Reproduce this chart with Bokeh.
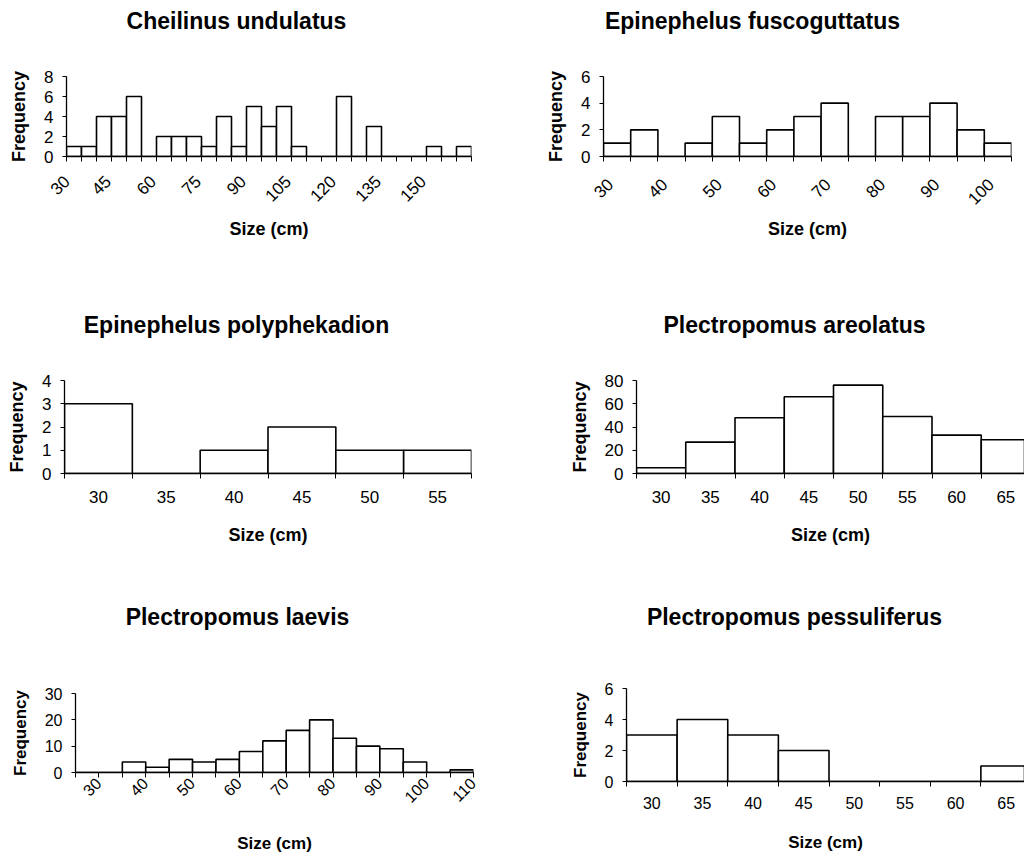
import math
from bokeh.plotting import figure
from bokeh.layouts import row, column
from bokeh.models import Range1d, FixedTicker, LinearAxis
from bokeh.embed import file_html
from bokeh.resources import INLINE

FONT = "Liberation Sans"

# ---------------- data ----------------
cu_title = "Cheilinus undulatus"
cu_bins = [30, 35, 40, 45, 50, 55, 60, 65, 70, 75, 80, 85, 90, 95, 100, 105,
           110, 115, 120, 125, 130, 135, 140, 145, 150, 155, 160]
cu_freq = [1, 1, 4, 4, 6, 0, 2, 2, 2, 1, 4, 1, 5, 3, 5, 1,
           0, 0, 6, 0, 3, 0, 0, 0, 1, 0, 1]
cu_labels = [30, 45, 60, 75, 90, 105, 120, 135, 150]
cu_yticks = [0, 2, 4, 6, 8]

ef_title = "Epinephelus fuscoguttatus"
ef_bins = [30, 35, 40, 45, 50, 55, 60, 65, 70, 75, 80, 85, 90, 95, 100]
ef_freq = [1, 2, 0, 1, 3, 1, 2, 3, 4, 0, 3, 3, 4, 2, 1]
ef_labels = [30, 40, 50, 60, 70, 80, 90, 100]
ef_yticks = [0, 2, 4, 6]

ep_title = "Epinephelus polyphekadion"
ep_bins = [30, 35, 40, 45, 50, 55]
ep_freq = [3, 0, 1, 2, 1, 1]
ep_labels = [30, 35, 40, 45, 50, 55]
ep_yticks = [0, 1, 2, 3, 4]

pa_title = "Plectropomus areolatus"
pa_bins = [30, 35, 40, 45, 50, 55, 60, 65]
pa_freq = [5, 27, 48, 66, 76, 49, 33, 29]
pa_labels = [30, 35, 40, 45, 50, 55, 60, 65]
pa_yticks = [0, 20, 40, 60, 80]

pl_title = "Plectropomus laevis"
pl_bins = [30, 35, 40, 45, 50, 55, 60, 65, 70, 75, 80, 85, 90, 95, 100, 105, 110]
pl_freq = [0, 0, 4, 2, 5, 4, 5, 8, 12, 16, 20, 13, 10, 9, 4, 0, 1]
pl_labels = [30, 40, 50, 60, 70, 80, 90, 100, 110]
pl_yticks = [0, 10, 20, 30]

pp_title = "Plectropomus pessuliferus"
pp_bins = [30, 35, 40, 45, 50, 55, 60, 65]
pp_freq = [3, 4, 3, 2, 0, 0, 0, 1]
pp_labels = [30, 35, 40, 45, 50, 55, 60, 65]
pp_yticks = [0, 2, 4, 6]

BIN = 5


def panel(title, bins, freq, labels, yticks, cell, frame, full_right, title_c,
          rotate=False, lab_shift=0.0, tick_standoff=10, xlab_standoff=14,
          tick_font="17px", lab_font="18px", title_standoff=44):
    cl, cw, ct, ch = cell          # cell (page px): left, width, top, height
    fl, fr, ft, fb = frame         # frame (page px): left, right, top, bottom
    x0 = bins[0] - BIN / 2
    x_full = bins[-1] + BIN / 2
    upx = (x_full - x0) / (full_right - fl)   # data units per pixel
    x1 = x0 + (fr - fl) * upx
    p = figure(width=cw, height=ch, output_backend="svg", toolbar_location=None,
               x_range=Range1d(x0, x1), y_range=Range1d(0, yticks[-1]),
               min_border_left=fl - cl, min_border_right=cl + cw - fr,
               min_border_top=ft - ct, min_border_bottom=ct + ch - fb)
    p.vbar(x=bins, top=freq, width=BIN, bottom=0, fill_color="white",
           line_color="black", line_width=1.6)
    p.grid.visible = False
    p.outline_line_color = None
    p.background_fill_color = "white"
    p.border_fill_color = "white"

    edges = [b - BIN / 2 for b in bins] + [bins[-1] + BIN / 2]
    shift = lab_shift * upx
    pos = [round(max(v + shift, x0 + 0.05), 3) for v in labels]
    xa = p.xaxis[0]
    xa.ticker = FixedTicker(ticks=pos, minor_ticks=edges)
    xa.major_label_overrides = {q: str(v) for q, v in zip(pos, labels)}
    xa.major_tick_line_color = None
    xa.major_tick_out = 5
    xa.major_tick_in = 0
    xa.minor_tick_line_color = "black"
    xa.minor_tick_out = 5
    xa.minor_tick_in = 0
    xa.axis_line_color = "black"
    xa.axis_line_width = 1.3
    xa.major_label_text_font = FONT
    xa.major_label_text_font_size = tick_font
    xa.major_label_text_color = "black"
    xa.major_label_standoff = tick_standoff
    if rotate:
        xa.major_label_orientation = math.pi / 4
    xa.axis_label = "Size (cm)"
    xa.axis_label_text_font = FONT
    xa.axis_label_text_font_style = "bold"
    xa.axis_label_text_font_size = lab_font
    xa.axis_label_text_color = "black"
    xa.axis_label_standoff = xlab_standoff

    ya = p.yaxis[0]
    ya.ticker = FixedTicker(ticks=yticks)
    ya.minor_tick_line_color = None
    ya.major_tick_out = 4
    ya.major_tick_in = 0
    ya.major_tick_line_color = "black"
    ya.axis_line_color = "black"
    ya.axis_line_width = 1.3
    ya.major_label_text_font = FONT
    ya.major_label_text_font_size = tick_font
    ya.major_label_text_color = "black"
    ya.major_label_standoff = 9
    ya.axis_label = "Frequency"
    ya.axis_label_text_font = FONT
    ya.axis_label_text_font_style = "bold"
    ya.axis_label_text_font_size = lab_font
    ya.axis_label_text_color = "black"
    ya.axis_label_standoff = 12

    # chart title, centred at page x title_c above the frame
    tx = round(x0 + (title_c - fl) * upx, 3)
    ta = LinearAxis(ticker=FixedTicker(ticks=[tx], minor_ticks=[]),
                    major_label_overrides={tx: title},
                    axis_line_color=None, major_tick_line_color=None,
                    minor_tick_line_color=None, major_tick_out=0, major_tick_in=0,
                    major_label_standoff=title_standoff,
                    major_label_text_font=FONT, major_label_text_font_style="bold",
                    major_label_text_font_size="23px", major_label_text_color="black")
    p.add_layout(ta, "above")
    return p


LEFT = (0, 520)
RIGHT = (520, 504)
R1, R2, R3 = (0, 300), (300, 292), (592, 265)

p1 = panel(cu_title, cu_bins, cu_freq, cu_labels, cu_yticks,
           LEFT + R1, (66, 471, 76, 156), 471, 236,
           rotate=True, lab_shift=-11, tick_standoff=17, xlab_standoff=9,
           title_standoff=43)
p2 = panel(ef_title, ef_bins, ef_freq, ef_labels, ef_yticks,
           RIGHT + R1, (603, 1011, 76, 156), 1011, 752,
           rotate=True, lab_shift=-7, tick_standoff=20, xlab_standoff=6,
           title_standoff=43)
p3 = panel(ep_title, ep_bins, ep_freq, ep_labels, ep_yticks,
           LEFT + R2, (64, 471, 380, 473), 471, 236,
           tick_standoff=12, xlab_standoff=19, title_standoff=43)
p4 = panel(pa_title, pa_bins, pa_freq, pa_labels, pa_yticks,
           RIGHT + R2, (636, 1024, 380, 473), 1030, 794,
           tick_standoff=12, xlab_standoff=19, title_standoff=43)
p5 = panel(pl_title, pl_bins, pl_freq, pl_labels, pl_yticks,
           LEFT + R3, (75, 473, 693, 772), 473, 237,
           rotate=True, lab_shift=11, tick_standoff=3, xlab_standoff=23,
           tick_font="16px", lab_font="17px", title_standoff=64)
p6 = panel(pp_title, pp_bins, pp_freq, pp_labels, pp_yticks,
           RIGHT + R3, (626, 1024, 688, 781), 1031, 794,
           tick_standoff=10, xlab_standoff=21,
           tick_font="16px", lab_font="17px", title_standoff=59)

layout = column(row(column(p1), column(p2)),
                row(column(p3), column(p4)),
                row(column(p5), column(p6)))

open("out.html", "w").write(file_html(layout, INLINE))
